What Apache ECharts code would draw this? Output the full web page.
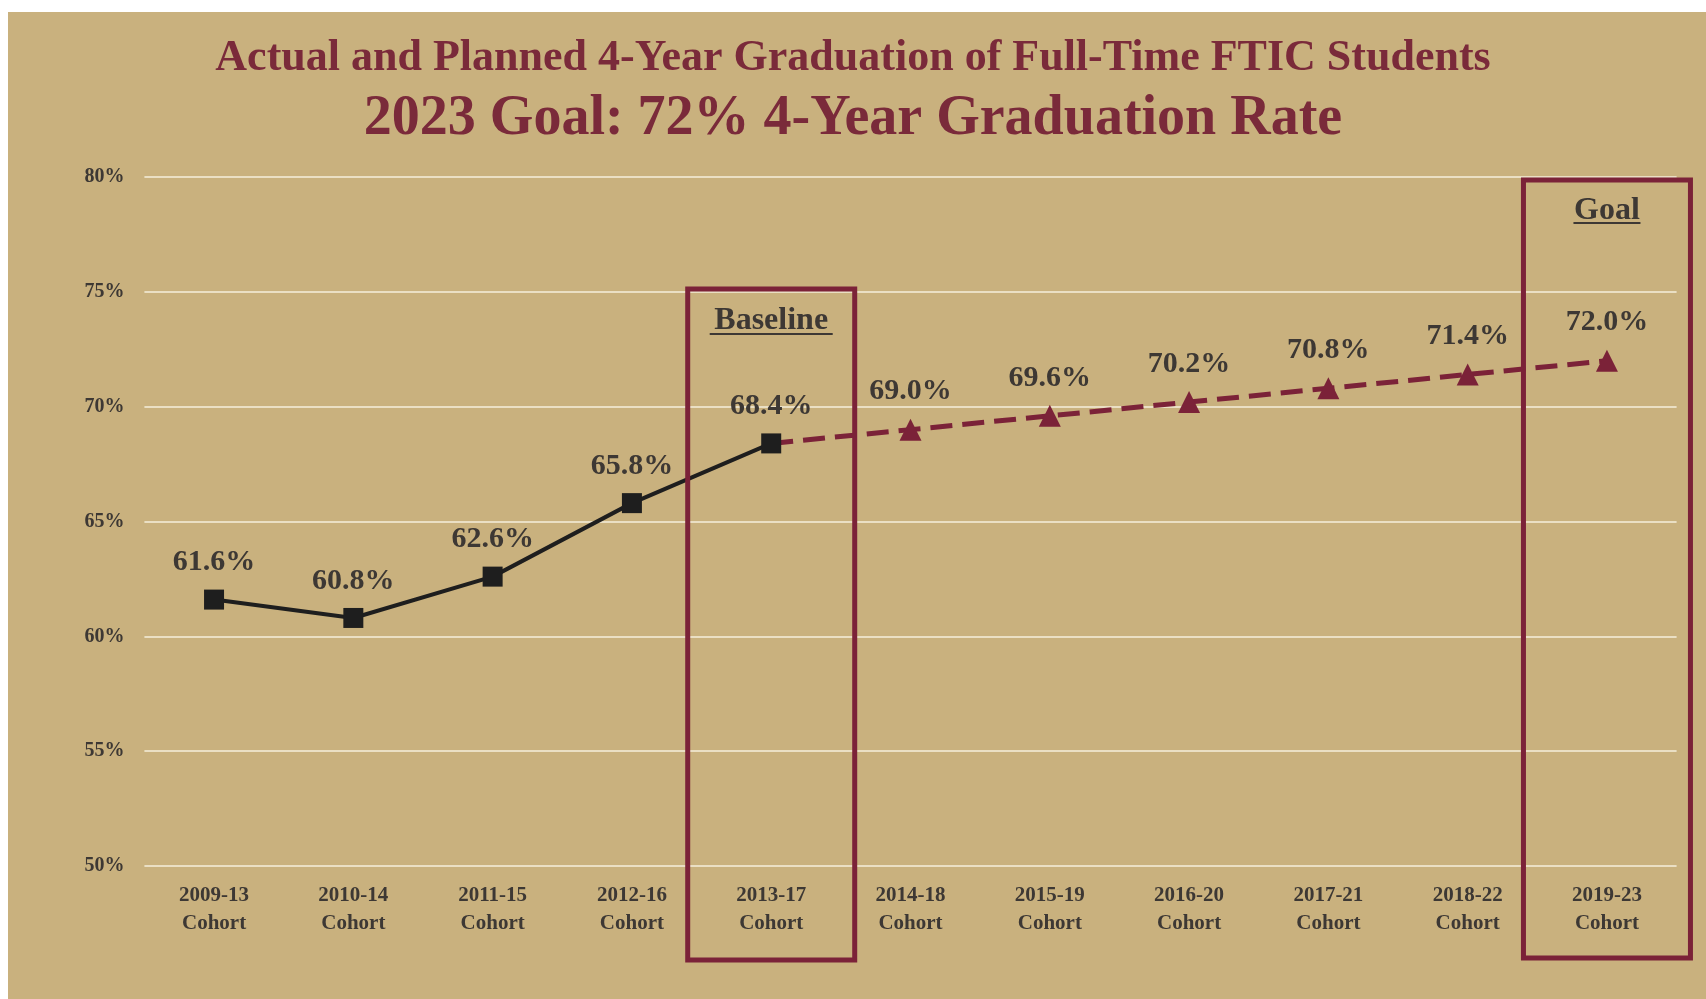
<!DOCTYPE html>
<html>
<head>
<meta charset="utf-8">
<title>4-Year Graduation</title>
<script src="https://cdn.jsdelivr.net/npm/echarts@6/dist/echarts.min.js"></script>
<style>
  html, body { margin: 0; padding: 0; background: #fff; }
  #main { width: 1706px; height: 999px; }
</style>
</head>
<body>
<div id="main"></div>
<script>
// cohorts on the x axis
var cohorts = ['2009-13', '2010-14', '2011-15', '2012-16', '2013-17', '2014-18',
               '2015-19', '2016-20', '2017-21', '2018-22', '2019-23'];
// actual rates (solid line)
var actual = [61.6, 60.8, 62.6, 65.8, 68.4, null, null, null, null, null, null];
// planned rates (dashed line), starts at the baseline
var planned = [null, null, null, null, 68.4, 69.0, 69.6, 70.2, 70.8, 71.4, 72.0];
// y ticks
var yTicks = [50, 55, 60, 65, 70, 75, 80];

var SERIF = '"Liberation Serif", "DejaVu Serif", serif';
var MAROON = '#7b2238';
var TAN = '#c9b17e';
var TEXT = '#3d3834';

var chart = echarts.init(document.getElementById('main'));

var option = {
  backgroundColor: '#fff',
  animation: false,
  title: [{
    text: 'Actual and Planned 4-Year Graduation of Full-Time FTIC Students',
    left: 'center', top: 32,
    textStyle: { fontFamily: SERIF, fontSize: 44, fontWeight: 'bold', color: '#7a2a3a', lineHeight: 44 }
  }, {
    text: '2023 Goal: 72% 4-Year Graduation Rate',
    left: 'center', top: 87,
    textStyle: { fontFamily: SERIF, fontSize: 56, fontWeight: 'bold', color: '#7a2a3a', lineHeight: 56 }
  }],
  grid: { left: 144.4, right: 29.4, top: 177, bottom: 133 },
  xAxis: {
    type: 'category', data: cohorts,
    axisLine: { show: false }, axisTick: { show: false },
    axisLabel: {
      interval: 0, margin: 16, fontFamily: SERIF, fontSize: 21, fontWeight: 'bold',
      color: TEXT, lineHeight: 28,
      formatter: function (v) { return v + '\nCohort'; }
    }
  },
  yAxis: {
    type: 'value', min: yTicks[0], max: yTicks[yTicks.length - 1], interval: 5,
    axisLine: { show: false }, axisTick: { show: false },
    axisLabel: { margin: 20, fontFamily: SERIF, fontSize: 20, fontWeight: 'bold', color: TEXT,
      formatter: '{value}%' },
    splitLine: { lineStyle: { color: '#eadfc4', width: 2 } }
  },
  series: [{
    name: 'Planned', type: 'line',
    data: planned.map(function (v, i) {
      if (i === 4) return { value: v, symbol: 'none', label: { show: false } };
      return v;
    }),
    symbol: 'triangle', symbolSize: 22, z: 3,
    lineStyle: { color: MAROON, width: 5, type: [22, 10] },
    itemStyle: { color: MAROON },
    label: { show: true, position: 'top', distance: 12, fontFamily: SERIF, fontSize: 30,
      fontWeight: 'bold', color: TEXT, formatter: function (p) { return p.value.toFixed(1) + '%'; } }
  }, {
    name: 'Actual', type: 'line',
    data: actual, symbol: 'rect', symbolSize: 20, z: 4,
    lineStyle: { color: '#1e1e1e', width: 4 },
    itemStyle: { color: '#1e1e1e' },
    label: { show: true, position: 'top', distance: 12, fontFamily: SERIF, fontSize: 30,
      fontWeight: 'bold', color: TEXT, formatter: function (p) { return p.value.toFixed(1) + '%'; } }
  }]
};

chart.setOption(option);

// panel background + baseline / goal boxes
function boxGraphics(cat, top, bottom, label, labelY, tw, ul) {
  var cx = chart.convertToPixel({ xAxisIndex: 0 }, cat);
  var w = 167;
  return [{
    type: 'rect', z: 5,
    shape: { x: cx - w / 2, y: top, width: w, height: bottom - top },
    style: { fill: null, stroke: MAROON, lineWidth: 5 }
  }, {
    type: 'text', z: 5, x: cx, y: labelY,
    style: { text: label, fontFamily: SERIF, fontSize: 32, fontWeight: 'bold', fill: TEXT,
      align: 'center', verticalAlign: 'middle' }
  }, {
    type: 'line', z: 5,
    shape: { x1: cx - tw / 2, y1: labelY + ul, x2: cx + tw / 2, y2: labelY + ul },
    style: { stroke: TEXT, lineWidth: 2 }
  }];
}

var g = [{
  type: 'rect', z: -10, silent: true,
  shape: { x: 8, y: 12, width: 1706 - 8, height: 999 - 12 },
  style: { fill: TAN }
}];
g = g.concat(boxGraphics(cohorts[4], 289, 960, 'Baseline', 321, 123, 13));
g = g.concat(boxGraphics(cohorts[10], 180, 958, 'Goal', 211, 67, 12));
chart.setOption({ graphic: g });
</script>
</body>
</html>
